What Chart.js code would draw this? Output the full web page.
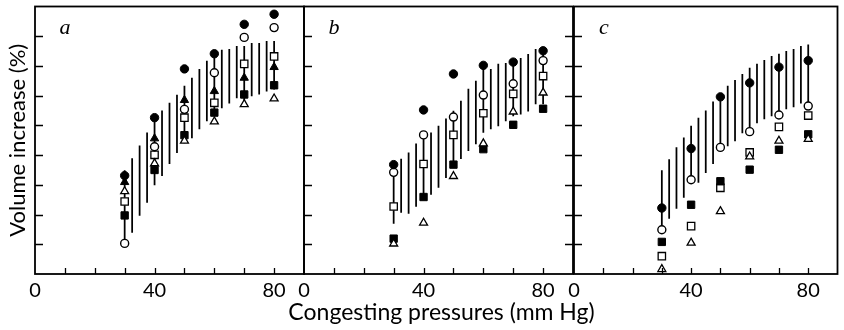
<!DOCTYPE html>
<html>
<head>
<meta charset="utf-8">
<script src="https://cdn.jsdelivr.net/npm/chart.js@4.4.0/dist/chart.umd.min.js"></script>
<style>
  html, body { margin: 0; padding: 0; background: #fff; }
  #wrap { position: relative; width: 844px; height: 330px; }
  #wrap canvas { position: absolute; left: 0; top: 0; }
</style>
</head>
<body>
<div id="wrap">
  <canvas id="panelA" width="844" height="330"></canvas>
  <canvas id="panelB" width="844" height="330"></canvas>
  <canvas id="panelC" width="844" height="330"></canvas>
</div>
<script>
// congesting pressures (mm Hg) where the symbols sit
const pressures = [30, 40, 50, 60, 70, 80];
// the hatched normal range is drawn every 2.5 mm Hg
const bandPressures = [30, 32.5, 35, 37.5, 40, 42.5, 45, 47.5, 50, 52.5, 55, 57.5, 60, 62.5, 65, 67.5, 70, 72.5, 75, 77.5, 80];
const xTickLabels = [0, 40, 80];
const panelLetters = ['a', 'b', 'c'];
const xTitleText = 'Congesting pressures (mm Hg)';
const yTitleText = 'Volume increase (%)';

// panel a
const bandLowA  = [1.03, 1.40, 1.97, 2.41, 3.00, 3.31, 3.71, 4.08, 4.41, 4.58, 4.88, 5.15, 5.38, 5.59, 5.75, 5.92, 5.82, 5.99, 6.05, 6.15, 6.22];
const bandHighA = [3.48, 3.88, 4.31, 4.75, 5.20, 5.49, 5.75, 6.02, 6.32, 6.59, 6.89, 7.16, 7.42, 7.53, 7.56, 7.66, 7.66, 7.76, 7.76, 7.83, 7.83];
const filledCircleA   = [3.31, 5.26, 6.90, 7.41, 8.40, 8.74];
const openCircleA     = [1.03, 4.28, 5.54, 6.77, 7.96, 8.29];
const filledTriangleA = [3.09, 4.56, 5.85, 6.15, 6.60, 6.96];
const openTriangleA   = [2.78, 3.72, 4.48, 5.13, 5.71, 5.90];
const filledSquareA   = [1.97, 3.50, 4.67, 5.43, 6.04, 6.35];
const openSquareA     = [2.44, 4.01, 5.26, 5.76, 7.07, 7.32];

// panel b
const bandLowB  = [1.70, 2.07, 2.04, 2.27, 2.55, 2.68, 2.91, 3.24, 3.68, 3.88, 4.15, 4.38, 4.76, 4.88, 4.98, 5.15, 5.32, 5.38, 5.48, 5.72, 5.72];
const bandHighB = [3.68, 3.87, 4.08, 4.38, 4.60, 4.75, 4.98, 5.22, 5.48, 5.82, 6.22, 6.49, 6.95, 6.89, 7.06, 7.09, 7.12, 7.26, 7.39, 7.56, 7.49];
const filledCircleB = [3.68, 5.52, 6.73, 7.02, 7.13, 7.51];
const openCircleB   = [3.42, 4.68, 5.28, 6.02, 6.40, 7.18];
const openTriangleB = [1.02, 1.72, 3.29, 4.39, 5.46, 6.10];
const filledSquareB = [1.19, 2.59, 3.68, 4.20, 5.02, 5.56];
const openSquareB   = [2.27, 3.70, 4.68, 5.41, 6.06, 6.66];

// panel c
const bandLowC  = [1.49, 1.87, 2.21, 2.58, 3.10, 3.08, 3.41, 3.71, 4.15, 4.31, 4.48, 4.75, 4.82, 5.08, 5.22, 5.32, 5.37, 5.55, 5.62, 5.75, 5.65];
const bandHighC = [3.48, 3.85, 4.25, 4.58, 4.98, 5.25, 5.49, 5.79, 6.04, 6.32, 6.52, 6.72, 6.93, 7.06, 7.19, 7.32, 7.40, 7.49, 7.56, 7.66, 7.71];
const filledCircleC = [2.22, 4.22, 5.96, 6.43, 6.96, 7.18];
const openCircleC   = [1.49, 3.17, 4.26, 4.79, 5.35, 5.65];
const openTriangleC = [0.16, 1.05, 2.11, 3.95, 4.48, 4.54];
const filledSquareC = [1.08, 2.33, 3.12, 3.51, 4.18, 4.70];
const openSquareC   = [0.60, 1.61, 2.90, 4.09, 4.95, 5.33];

const FONT = 'Lato, "Open Sans", sans-serif';

// marker looks
const markers = {
  filledCircle:   { pointStyle: 'circle',   pointRadius: 4.2, backgroundColor: '#000', borderWidth: 1 },
  openCircle:     { pointStyle: 'circle',   pointRadius: 4,   backgroundColor: '#fff', borderWidth: 1.4 },
  filledTriangle: { pointStyle: 'triangle', pointRadius: 4.8, backgroundColor: '#000', borderWidth: 1 },
  openTriangle:   { pointStyle: 'triangle', pointRadius: 4.6, backgroundColor: '#fff', borderWidth: 1.3 },
  filledSquare:   { pointStyle: 'rect',     pointRadius: 5.2, backgroundColor: '#000', borderWidth: 1 },
  openSquare:     { pointStyle: 'rect',     pointRadius: 5.2, backgroundColor: '#fff', borderWidth: 1.3 }
};

function pointSet(kind, values) {
  const m = markers[kind];
  return {
    type: 'scatter',
    label: kind,
    data: pressures.map((p, i) => ({ x: p, y: values[i] })),
    pointStyle: m.pointStyle,
    pointRadius: m.pointRadius,
    pointBackgroundColor: m.backgroundColor,
    pointBorderColor: '#000',
    pointBorderWidth: m.borderWidth,
    order: 0
  };
}

function bandSet(lo, hi) {
  return {
    type: 'bar',
    label: 'normal range',
    data: bandPressures.map((p, i) => ({ x: p, y: [lo[i], hi[i]] })),
    backgroundColor: '#000',
    borderWidth: 0,
    barThickness: 1.1,
    grouped: false,
    order: 10
  };
}

// box round each panel with inward ticks, the panel letter and
// (for the middle panel) the shared x title, which is wider than one panel
const framePlugin = {
  id: 'frame',
  afterDatasetsDraw(chart, args, opts) {
    const { ctx, chartArea: a } = chart;
    const xs = chart.scales.x, ys = chart.scales.y;
    ctx.save();
    ctx.strokeStyle = '#000';
    ctx.lineWidth = 1.3;
    ctx.beginPath();
    xs.ticks.forEach(t => {
      if (t.value <= xs.min || t.value >= xs.max) return;
      const px = Math.round(xs.getPixelForValue(t.value)) + 0.5;
      ctx.moveTo(px, a.bottom);
      ctx.lineTo(px, a.bottom - 6);
    });
    ys.ticks.forEach(t => {
      if (t.value <= ys.min || t.value >= ys.max) return;
      const py = Math.round(ys.getPixelForValue(t.value)) + 0.5;
      ctx.moveTo(a.left, py);
      ctx.lineTo(a.left + 8, py);
      if (opts.rightTicks) {
        ctx.moveTo(a.right, py);
        ctx.lineTo(a.right - 8, py);
      }
    });
    ctx.stroke();
    ctx.lineWidth = 1.8;
    ctx.strokeRect(a.left, a.top, a.right - a.left, a.bottom - a.top);
    ctx.fillStyle = '#000';
    ctx.font = 'italic 22px "Liberation Serif", serif';
    ctx.textAlign = 'center';
    ctx.textBaseline = 'middle';
    ctx.fillText(opts.letter, a.left + 30, a.top + 22);
    if (opts.xTitle) {
      ctx.font = '23px ' + FONT;
      ctx.fillText(opts.xTitle, (a.left + a.right) / 2 + 3, a.bottom + 39);
    }
    ctx.restore();
  }
};

function makePanel(id, cfg) {
  const ctx = document.getElementById(id).getContext('2d');
  return new Chart(ctx, {
    type: 'scatter',
    data: { datasets: cfg.datasets },
    options: {
      responsive: false,
      animation: false,
      events: [],
      layout: { padding: { left: cfg.left, right: cfg.right, top: 5, bottom: 0 } },
      plugins: {
        legend: { display: false },
        tooltip: { enabled: false },
        frame: { letter: cfg.letter, rightTicks: cfg.rightTicks, xTitle: cfg.xTitle }
      },
      scales: {
        x: {
          type: 'linear',
          min: 0, max: 90,
          offset: false,
          grid: { display: false, drawTicks: false, tickLength: 0, offset: false },
          border: { display: false },
          ticks: {
            stepSize: 10,
            autoSkip: false,
            maxRotation: 0,
            padding: 5,
            color: '#000',
            font: { family: FONT, size: 20 },
            callback: v => (xTickLabels.includes(v) ? String(v) : '')
          },
          afterFit: s => { s.height = 56; }
        },
        y: {
          type: 'linear',
          min: 0, max: 9,
          grid: { display: false, drawTicks: false, tickLength: 0 },
          border: { display: false },
          ticks: { stepSize: 1, display: false },
          title: {
            display: cfg.yTitle,
            text: yTitleText,
            color: '#000',
            font: { family: FONT, size: 22 },
            padding: { top: 5, bottom: 0 }
          },
          afterFit: s => { s.width = cfg.yWidth; }
        }
      }
    },
    plugins: [framePlugin]
  });
}

makePanel('panelA', {
  left: 0, right: 540, yWidth: 35, yTitle: true, xTitle: null,
  letter: panelLetters[0], rightTicks: false,
  datasets: [
    bandSet(bandLowA, bandHighA),
    pointSet('filledCircle', filledCircleA),
    pointSet('openCircle', openCircleA),
    pointSet('filledTriangle', filledTriangleA),
    pointSet('openTriangle', openTriangleA),
    pointSet('filledSquare', filledSquareA),
    pointSet('openSquare', openSquareA)
  ]
});

makePanel('panelB', {
  left: 304, right: 271, yWidth: 0, yTitle: false, xTitle: xTitleText,
  letter: panelLetters[1], rightTicks: true,
  datasets: [
    bandSet(bandLowB, bandHighB),
    pointSet('filledCircle', filledCircleB),
    pointSet('openCircle', openCircleB),
    pointSet('openTriangle', openTriangleB),
    pointSet('filledSquare', filledSquareB),
    pointSet('openSquare', openSquareB)
  ]
});

makePanel('panelC', {
  left: 574, right: 0, yWidth: 0, yTitle: false, xTitle: null,
  letter: panelLetters[2], rightTicks: false,
  datasets: [
    bandSet(bandLowC, bandHighC),
    pointSet('filledCircle', filledCircleC),
    pointSet('openCircle', openCircleC),
    pointSet('openTriangle', openTriangleC),
    pointSet('filledSquare', filledSquareC),
    pointSet('openSquare', openSquareC)
  ]
});
</script>
</body>
</html>
